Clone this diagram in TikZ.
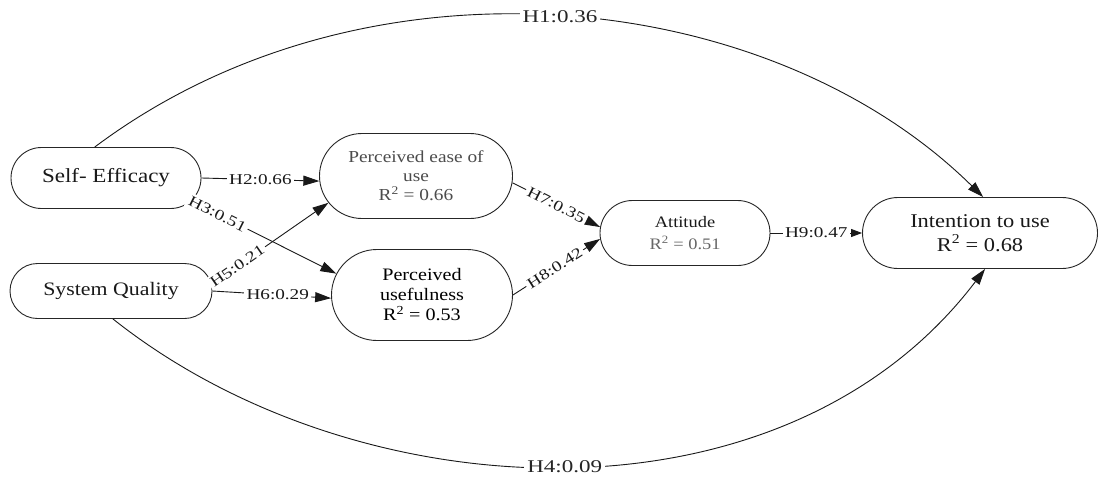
\documentclass[tikz,border=0pt]{standalone}
\usepackage{fontspec}
\setmainfont{Liberation Serif}
\newfontfamily\nodefnt{Liberation Serif}[FakeStretch=1.15]
\newfontfamily\lblfnt{Liberation Serif}[FakeStretch=1.28]
\usetikzlibrary{shapes.misc,arrows.meta}
\begin{document}
\begin{tikzpicture}[x=1pt,y=-1pt,
  box/.style={draw=black!85, line width=0.9pt, rounded rectangle, inner sep=0pt, align=center, text=black!90},
  edge/.style={draw=black!90, line width=0.9pt, -{Triangle[length=16pt,width=10pt]}},
  edgesmall/.style={draw=black!90, line width=0.9pt, -{Triangle[length=11pt,width=8pt]}},
  lbl/.style={fill=white, inner sep=2.5pt, font={\lblfnt\fontsize{15}{16}\selectfont}, text=black!90},
  biglbl/.style={fill=white, inner sep=3pt, font={\lblfnt\fontsize{18}{19}\selectfont}, text=black!85},
]
\useasboundingbox[fill=white] (0,0) rectangle (1099,479);
\node[box, minimum width=190pt, minimum height=61pt, font={\nodefnt\fontsize{20}{22}\selectfont}] (SE) at (106,178) {Self- Efficacy};
\node[box, minimum width=202pt, minimum height=55pt, font={\nodefnt\fontsize{19}{22}\selectfont}] (SQ) at (111,291) {System Quality};
\node[box, minimum width=193pt, minimum height=85pt, text=black!70, font={\nodefnt\fontsize{16.8}{19}\selectfont}] (PEOU) at (416,176) {Perceived ease of\\use\\R\textsuperscript{2} = 0.66};
\node[box, minimum width=181pt, minimum height=91pt, text=black, font={\nodefnt\fontsize{17.5}{20}\selectfont}] (PU) at (422,295) {Perceived\\usefulness\\R\textsuperscript{2} = 0.53};
\node[box, minimum width=170pt, minimum height=65pt, font={\nodefnt\fontsize{16}{22}\selectfont}] (AT) at (685,233) {Attitude\\{\color{black!60}R\textsuperscript{2} = 0.51}};
\node[box, minimum width=235pt, minimum height=71pt, font={\nodefnt\fontsize{19.5}{24}\selectfont}] (IU) at (980,233) {Intention to use\\R\textsuperscript{2} = 0.68};

\draw[edge] (SE.110) .. controls (365.5,-55.9) and (768.5,-14.5) .. (IU.85) node[pos=0.5, biglbl] {H1:0.36};
\draw[edge] (SQ.-86) .. controls (357,513) and (783,535) .. (IU.-82) node[pos=0.5, biglbl] {H4:0.09};
\draw[edge] (SE.east) -- (PEOU.183) node[midway, lbl] {H2:0.66};
\draw[edge] (SQ.4) -- (PEOU.197) node[pos=0.22, sloped, lbl] {H5:0.21};
\draw[edge] (SE.-15) -- (PU.166) node[pos=0.18, sloped, lbl] {H3:0.51};
\draw[edge] (SQ.east) -- (PU.182) node[pos=0.55, lbl] {H6:0.29};
\draw[edge] (PEOU.-4) -- (AT.176) node[midway, sloped, lbl] {H7:0.35};
\draw[edge] (PU.0) -- (AT.184) node[pos=0.48, sloped, lbl] {H8:0.42};
\draw[edgesmall] (AT.east) -- (IU.west) node[midway, lbl] {H9:0.47};
\end{tikzpicture}
\end{document}
